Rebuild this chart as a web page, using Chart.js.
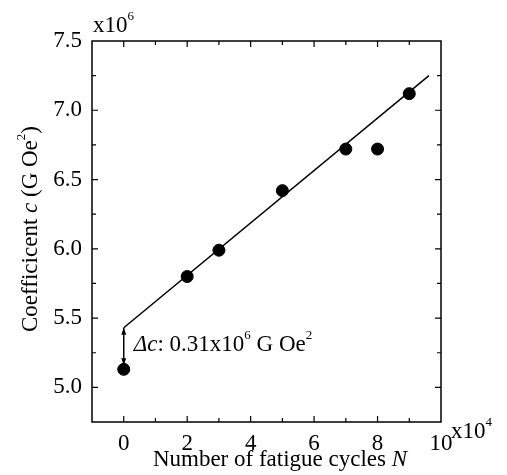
<!DOCTYPE html>
<html>
<head>
<meta charset="utf-8">
<script src="https://cdn.jsdelivr.net/npm/chart.js@4.4.1/dist/chart.umd.min.js"></script>
<style>
  html, body { margin: 0; padding: 0; background: #fff; }
  #wrap { width: 507px; height: 475px; position: relative; }
</style>
</head>
<body>
<div id="wrap"><canvas id="coefChart"></canvas></div>
<script>
// measured points (x in 1e4 cycles, c in 1e6 G Oe^2)
var cycles     = [0, 2, 3, 5, 7, 8, 9];
var coefValues = [5.13, 5.80, 5.99, 6.42, 6.72, 6.72, 7.12];

// linear fit drawn through the data
var fitX = [0, 9.62];
var fitY = [5.43, 7.25];

// delta c arrow (from fit intercept down to first point)
var arrowX = 0;
var arrowFrom = 5.43;
var arrowTo = 5.16;

var FONT = '"Liberation Serif", "DejaVu Serif", serif';
var FS = 23;

var points = cycles.map(function (x, i) { return { x: x, y: coefValues[i] }; });
var fitLine = fitX.map(function (x, i) { return { x: x, y: fitY[i] }; });

function isMajorY(v) { return Math.abs(v * 2 - Math.round(v * 2)) < 1e-6; }
function isMajorX(v) { return Math.abs(v / 2 - Math.round(v / 2)) < 1e-6; }

// draws text runs, each run: [text, style, size, dy]
function drawRuns(ctx, runs, x, y) {
    runs.forEach(function (r) {
        ctx.font = (r[1] || '') + ' ' + r[2] + 'px ' + FONT;
        ctx.fillText(r[0], x, y + (r[3] || 0));
        x += ctx.measureText(r[0]).width;
    });
    return x;
}
function runsWidth(ctx, runs) {
    var w = 0;
    runs.forEach(function (r) {
        ctx.font = (r[1] || '') + ' ' + r[2] + 'px ' + FONT;
        w += ctx.measureText(r[0]).width;
    });
    return w;
}

var framePlugin = {
    id: 'frame',
    afterDraw: function (chart) {
        var ctx = chart.ctx;
        var a = chart.chartArea;
        var xs = chart.scales.x, ys = chart.scales.y;
        ctx.save();
        ctx.strokeStyle = '#000';
        ctx.fillStyle = '#000';
        ctx.lineWidth = 1.5;
        ctx.strokeRect(a.left, a.top, a.right - a.left, a.bottom - a.top);

        // inward ticks on all four sides
        ctx.lineWidth = 1.2;
        xs.ticks.forEach(function (t) {
            var px = xs.getPixelForValue(t.value);
            if (px <= a.left + 1 || px >= a.right - 1) return;
            var len = isMajorX(t.value) ? 6 : 4;
            ctx.beginPath();
            ctx.moveTo(px, a.bottom); ctx.lineTo(px, a.bottom - len);
            ctx.moveTo(px, a.top); ctx.lineTo(px, a.top + len);
            ctx.stroke();
        });
        ys.ticks.forEach(function (t) {
            var py = ys.getPixelForValue(t.value);
            if (py <= a.top + 1 || py >= a.bottom - 1) return;
            var len = isMajorY(t.value) ? 6 : 4;
            ctx.beginPath();
            ctx.moveTo(a.left, py); ctx.lineTo(a.left + len, py);
            ctx.moveTo(a.right, py); ctx.lineTo(a.right - len, py);
            ctx.stroke();
        });

        // delta c arrow
        var ax = xs.getPixelForValue(arrowX);
        var y1 = ys.getPixelForValue(arrowFrom), y2 = ys.getPixelForValue(arrowTo);
        ctx.lineWidth = 1.5;
        ctx.beginPath(); ctx.moveTo(ax, y1); ctx.lineTo(ax, y2); ctx.stroke();
        ctx.beginPath();
        ctx.moveTo(ax, y1); ctx.lineTo(ax - 2.5, y1 + 7); ctx.lineTo(ax + 2.5, y1 + 7); ctx.closePath();
        ctx.moveTo(ax, y2); ctx.lineTo(ax - 2.5, y2 - 7); ctx.lineTo(ax + 2.5, y2 - 7); ctx.closePath();
        ctx.fill();

        ctx.textBaseline = 'alphabetic';
        ctx.textAlign = 'left';
        // annotation
        drawRuns(ctx, [['Δc', 'italic', FS], [': 0.31x10', '', FS], ['6', '', 13, -12],
                       [' G Oe', '', FS], ['2', '', 13, -12]], ax + 10, 351);

        // multipliers
        drawRuns(ctx, [['x10', '', FS], ['6', '', 13, -12]], 93, 32);
        drawRuns(ctx, [['x10', '', FS], ['4', '', 13, -12]], 451, 438);

        // x title
        var xt = [['Number of fatigue cycles ', '', FS], ['N', 'italic', FS]];
        drawRuns(ctx, xt, 280 - runsWidth(ctx, xt) / 2, 466);

        // y title (rotated)
        var yt = [['Coefficicent ', '', FS], ['c', 'italic', FS], [' (G Oe', '', FS],
                  ['2', '', 13, -12], [')', '', FS]];
        ctx.translate(37, 229);
        ctx.rotate(-Math.PI / 2);
        drawRuns(ctx, yt, -runsWidth(ctx, yt) / 2, 0);
        ctx.restore();
    }
};

var coefChart = new Chart(document.getElementById('coefChart'), {
    type: 'scatter',
    data: {
        datasets: [{
            data: points,
            backgroundColor: '#000',
            borderColor: '#000',
            pointRadius: 6,
            pointHoverRadius: 6,
            showLine: false
        }, {
            type: 'line',
            data: fitLine,
            borderColor: '#000',
            borderWidth: 1.5,
            pointRadius: 0,
            fill: false
        }]
    },
    options: {
        responsive: true,
        maintainAspectRatio: false,
        animation: false,
        events: [],
        layout: { padding: { top: 41, right: 66, left: 0, bottom: 0 } },
        plugins: { legend: { display: false }, tooltip: { enabled: false } },
        scales: {
            x: {
                type: 'linear',
                min: -1, max: 10,
                afterFit: function (s) { s.height = 53; },
                border: { display: false },
                grid: { display: false, drawTicks: false },
                ticks: {
                    stepSize: 1,
                    autoSkip: false,
                    maxRotation: 0,
                    padding: 8,
                    color: '#000',
                    font: { family: FONT, size: FS },
                    callback: function (v) { return (v >= 0 && isMajorX(v)) ? String(v) : ''; }
                }
            },
            y: {
                type: 'linear',
                min: 4.75, max: 7.5,
                afterFit: function (s) { s.width = 92; },
                border: { display: false },
                grid: { display: false, drawTicks: false },
                ticks: {
                    stepSize: 0.25,
                    autoSkip: false,
                    padding: 10,
                    color: '#000',
                    font: { family: FONT, size: FS },
                    callback: function (v) { return isMajorY(v) ? v.toFixed(1) : ''; }
                }
            }
        }
    },
    plugins: [framePlugin]
});
</script>
</body>
</html>
